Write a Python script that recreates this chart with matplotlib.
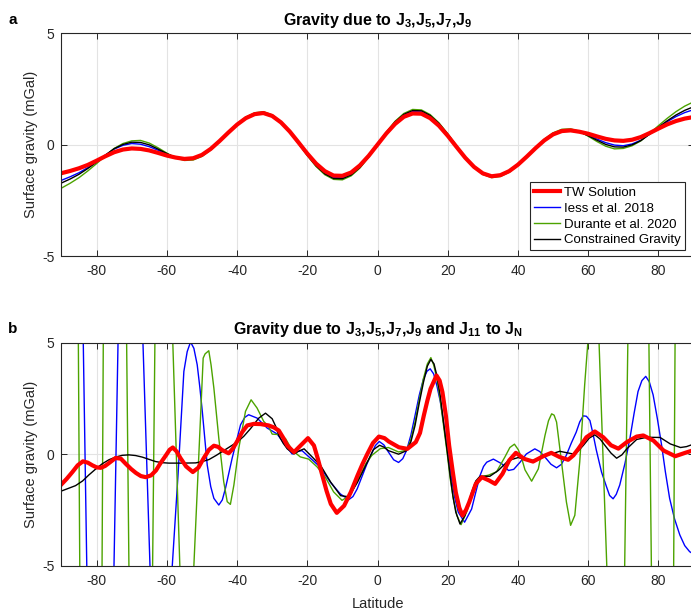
import numpy as np
import matplotlib
matplotlib.use('Agg')
import matplotlib.pyplot as plt

plt.rcParams['font.family'] = ['Liberation Sans', 'DejaVu Sans']
plt.rcParams['mathtext.fontset'] = 'custom'
plt.rcParams['mathtext.rm'] = 'Liberation Sans:bold'
plt.rcParams['mathtext.it'] = 'Liberation Sans:bold'
plt.rcParams['mathtext.bf'] = 'Liberation Sans:bold'
plt.rcParams['axes.unicode_minus'] = False

# ---- panel a : J3, J5, J7, J9 only (latitude every 2.5 deg, -90..90) ----
lat_a = np.linspace(-90, 90, 73)

tw_a = [-1.28, -1.18, -1.06, -0.91, -0.72, -0.52, -0.34, -0.22, -0.17, -0.19, -0.26, -0.37,
        -0.49, -0.58, -0.64, -0.61, -0.46, -0.19, 0.16, 0.54, 0.90, 1.19, 1.37, 1.42,
        1.29, 1.00, 0.59, 0.10, -0.40, -0.85, -1.19, -1.39, -1.40, -1.25, -0.93, -0.50,
        0.00, 0.50, 0.93, 1.25, 1.40, 1.39, 1.19, 0.85, 0.40, -0.10, -0.59, -1.00,
        -1.29, -1.42, -1.37, -1.19, -0.90, -0.54, -0.16, 0.19, 0.46, 0.61, 0.64, 0.58,
        0.49, 0.37, 0.26, 0.19, 0.17, 0.22, 0.34, 0.52, 0.72, 0.91, 1.06, 1.17, 1.24]

iess_a = [-1.60, -1.44, -1.26, -1.03, -0.76, -0.47, -0.20, -0.03, 0.05, 0.02, -0.09, -0.25,
          -0.43, -0.58, -0.65, -0.63, -0.48, -0.21, 0.15, 0.54, 0.90, 1.19, 1.37, 1.42,
          1.29, 0.99, 0.57, 0.06, -0.45, -0.92, -1.27, -1.47, -1.48, -1.32, -0.99, -0.52,
          0.00, 0.52, 0.99, 1.32, 1.48, 1.47, 1.27, 0.92, 0.45, -0.06, -0.57, -0.99,
          -1.29, -1.42, -1.37, -1.19, -0.90, -0.54, -0.15, 0.21, 0.48, 0.63, 0.65, 0.58,
          0.43, 0.25, 0.09, -0.02, -0.05, 0.03, 0.20, 0.47, 0.76, 1.03, 1.26, 1.44, 1.57]

durante_a = [-1.95, -1.73, -1.48, -1.18, -0.85, -0.50, -0.17, 0.05, 0.17, 0.19, 0.07, -0.14,
             -0.38, -0.60, -0.71, -0.69, -0.53, -0.24, 0.14, 0.54, 0.93, 1.24, 1.43, 1.48,
             1.34, 1.03, 0.58, 0.05, -0.49, -0.98, -1.35, -1.56, -1.58, -1.40, -1.05, -0.56,
             0.00, 0.56, 1.05, 1.40, 1.58, 1.56, 1.35, 0.98, 0.49, -0.05, -0.58, -1.03,
             -1.34, -1.48, -1.43, -1.24, -0.93, -0.54, -0.14, 0.24, 0.53, 0.69, 0.71, 0.60,
             0.38, 0.14, -0.07, -0.19, -0.17, -0.05, 0.17, 0.50, 0.85, 1.18, 1.48, 1.73, 1.92]

constr_a = [-1.72, -1.54, -1.33, -1.07, -0.78, -0.47, -0.18, 0.01, 0.11, 0.10, -0.01, -0.20,
            -0.40, -0.58, -0.67, -0.65, -0.50, -0.22, 0.15, 0.54, 0.92, 1.22, 1.40, 1.45,
            1.32, 1.01, 0.57, 0.06, -0.47, -0.95, -1.31, -1.52, -1.53, -1.36, -1.02, -0.54,
            0.00, 0.54, 1.02, 1.36, 1.53, 1.52, 1.31, 0.95, 0.47, -0.06, -0.57, -1.01,
            -1.32, -1.45, -1.40, -1.22, -0.92, -0.54, -0.15, 0.22, 0.50, 0.65, 0.67, 0.58,
            0.40, 0.20, 0.01, -0.10, -0.11, -0.01, 0.18, 0.47, 0.78, 1.07, 1.33, 1.54, 1.70]

# ---- panel b : J3..J9 and J11 to JN, (latitude, mGal) pairs ----
tw_b = [(-90, -1.35), (-88.5, -1.1), (-86.9, -0.8), (-85.4, -0.5), (-83.9, -0.32), (-82.5, -0.38),
        (-81.2, -0.5), (-80, -0.59), (-78.8, -0.61), (-77.6, -0.53), (-76.5, -0.4), (-74.6, -0.17),
        (-73.1, -0.2), (-71.7, -0.43), (-70.2, -0.66), (-68.8, -0.84), (-67.4, -0.98), (-66, -1.03),
        (-64.5, -0.95), (-63.1, -0.73), (-61.8, -0.4), (-60.3, -0.06), (-59.2, 0.2), (-58.3, 0.3),
        (-57.2, 0.12), (-56.1, -0.18), (-54.5, -0.55), (-52.6, -0.8), (-51, -0.6), (-49.5, -0.18),
        (-48, 0.2), (-46.6, 0.38), (-45.4, 0.33), (-44.3, 0.19), (-42.4, 0.04), (-41.2, 0.25),
        (-40, 0.57), (-38.5, 1.0), (-37.1, 1.29), (-35.2, 1.36), (-33.3, 1.35), (-31, 1.29),
        (-29.5, 1.2), (-28.1, 1.06), (-26.9, 0.75), (-25.7, 0.39), (-23.8, 0.09), (-21.9, 0.39),
        (-19.8, 0.72), (-18.1, 0.39), (-17, -0.2), (-15.7, -0.96), (-14.5, -1.65), (-13.3, -2.23),
        (-11.6, -2.63), (-9.5, -2.31), (-7.6, -1.7), (-5.7, -0.96), (-4.3, -0.45), (-2.9, 0.01),
        (-1.3, 0.5), (0.4, 0.79), (2, 0.72), (3.2, 0.57), (6.1, 0.31), (8.5, 0.24),
        (10.9, 0.54), (12.1, 0.95), (13.2, 1.74), (14.2, 2.4), (15.1, 2.93), (16.8, 3.53),
        (17.7, 3.3), (18.5, 2.78), (19.5, 1.7), (20.4, 0.39), (21.4, -0.75), (22.3, -1.71),
        (23.3, -2.4), (24.2, -2.75), (25.2, -2.5), (26.1, -2.16), (28, -1.33), (29.7, -1.03),
        (31.8, -1.18), (33.5, -1.33), (35.6, -0.88), (37.5, -0.28), (39.4, 0.06), (41.8, -0.21),
        (44.3, -0.33), (47.2, -0.09), (49.5, 0.06), (51.9, -0.13), (54.3, -0.25), (55.8, -0.05),
        (57.2, 0.24), (59.5, 0.76), (61.9, 1.02), (64.3, 0.76), (66.5, 0.4), (68.6, 0.25),
        (71, 0.54), (73.8, 0.79), (75.7, 0.84), (78.6, 0.61), (81.5, 0.16), (84.8, -0.09),
        (87.6, 0.06), (90, 0.18)]

constr_b = [(-90, -1.65), (-86, -1.41), (-84, -1.2), (-82.2, -0.93), (-80.3, -0.67), (-78.4, -0.43),
            (-76.5, -0.25), (-74.6, -0.13), (-72.7, -0.05), (-70.8, -0.03), (-68.9, -0.06), (-67, -0.13),
            (-65.1, -0.23), (-63.2, -0.33), (-61.3, -0.38), (-59.4, -0.4), (-55.6, -0.4), (-51.8, -0.39),
            (-49.9, -0.33), (-48, -0.24), (-45.9, -0.05), (-43.8, 0.16), (-40, 0.54), (-38.1, 0.8),
            (-36.2, 1.14), (-33.8, 1.62), (-31.9, 1.84), (-30, 1.59), (-29, 1.25), (-28.1, 0.84),
            (-26.9, 0.5), (-25.7, 0.24), (-23.8, 0.01), (-22.3, 0.15), (-20.9, 0.24), (-19, -0.06),
            (-16.2, -0.51), (-13.3, -1.26), (-10.5, -1.86), (-8.6, -1.9), (-7.2, -1.65), (-5.7, -1.26),
            (-2.9, -0.36), (-1.2, 0.2), (0.6, 0.4), (1.8, 0.32), (3.1, 0.16), (6, 0.0),
            (8.3, 0.16), (9.5, 0.55), (10.7, 1.29), (11.9, 2.3), (13.1, 3.23), (14.2, 3.95),
            (15.2, 4.25), (16.1, 4.05), (16.9, 3.53), (17.9, 2.6), (18.8, 1.44), (19.8, 0.2),
            (20.7, -0.96), (21.5, -1.9), (22.3, -2.6), (23.5, -3.13), (24.9, -2.75), (26.8, -1.71),
            (28, -1.2), (29.2, -0.99), (32, -0.99), (34.4, -0.73), (37.3, -0.28), (40.1, -0.15),
            (42.2, -0.25), (44.3, -0.28), (48.1, -0.06), (51.9, 0.13), (55.7, 0.01), (57.2, 0.15),
            (58.6, 0.39), (60.3, 0.72), (61.9, 0.87), (63.4, 0.68), (64.8, 0.39), (66.5, 0.05),
            (68.1, -0.18), (69.6, -0.03), (71, 0.24), (73.8, 0.66), (76.7, 0.76), (80.5, 0.75),
            (83.4, 0.46), (86.3, 0.3), (88, 0.34), (90, 0.45)]

iess_b = [(-90, 18), (-87.5, 25), (-83.8, 5), (-82.8, -5), (-79, -22), (-75.05, -5),
          (-73.9, 5), (-70.4, 14), (-66.8, 5), (-64.8, -5), (-61.8, -9), (-58.45, -5),
          (-56.8, -0.9), (-55.15, 3.71), (-54.2, 4.6), (-53.25, 5.03), (-52.3, 4.75), (-51.35, 4.01),
          (-50.6, 3.0), (-49.9, 1.92), (-48.5, -0.48), (-47.5, -1.45), (-46.6, -1.98), (-45.2, -2.28),
          (-44.2, -2.05), (-43.3, -1.53), (-41.4, -0.18), (-39, 1.32), (-37.8, 1.65), (-36.7, 1.77),
          (-34.3, 1.62), (-31.4, 1.17), (-28.6, 0.91), (-26.2, 0.39), (-24.3, 0.01), (-22.8, 0.12),
          (-21.5, 0.16), (-19.1, -0.18), (-16.3, -0.58), (-13.4, -1.26), (-10.6, -1.78), (-8.2, -2.04),
          (-7, -1.9), (-5.8, -1.56), (-3, -0.43), (-0.6, 0.39), (0.5, 0.57), (1.8, 0.42),
          (3.1, 0.1), (4.6, -0.25), (6, -0.37), (7.2, -0.2), (8.3, 0.18), (9.5, 0.85),
          (10.7, 1.74), (11.9, 2.65), (13.1, 3.38), (14.1, 3.72), (15, 3.83), (16, 3.6),
          (16.9, 3.08), (17.9, 2.35), (18.8, 1.44), (20, 0.15), (21.1, -1.11), (22, -1.95),
          (23, -2.6), (24.8, -3.05), (26.8, -2.46), (28, -1.7), (29.2, -0.96), (30.2, -0.55),
          (31.1, -0.36), (33, -0.22), (35.4, -0.43), (37.3, -0.73), (38.8, -0.68), (40.6, -0.36),
          (42.4, 0.01), (44.8, 0.24), (46.2, 0.12), (47.7, -0.13), (49.4, -0.45), (51, -0.61),
          (52.4, -0.45), (53.8, -0.04), (55.2, 0.5), (56.6, 0.99), (57.6, 1.45), (58.6, 1.72),
          (59.5, 1.7), (60.5, 1.51), (61.4, 0.9), (62.3, 0.2), (63.8, -0.8), (65.2, -1.45),
          (66.1, -1.85), (67.1, -2.0), (68, -1.8), (69, -1.38), (70.5, -0.4), (71.9, 0.72),
          (73.1, 1.85), (74.2, 2.81), (75.3, 3.3), (76.4, 3.49), (77.4, 3.25), (78.5, 2.66),
          (79.7, 1.6), (80.9, 0.42), (82, -0.8), (83.2, -1.98), (84.6, -2.9), (86.1, -3.62),
          (87.5, -4.1), (88.9, -4.37), (90, -4.48)]

durante_b = [(-90, 30), (-87.5, 45), (-85.2, 5), (-84.8, -5), (-81.5, -40), (-78.45, -5),
             (-78.1, 5), (-74.8, 30), (-71.45, 5), (-70.8, -5), (-67.5, -20), (-64.05, -5),
             (-63.4, 5), (-60.8, 12), (-58.3, 5), (-56.3, -5), (-54.3, -9), (-52.3, -5),
             (-49.65, 4.31), (-49.1, 4.5), (-48.05, 4.64), (-47.4, 4.0), (-46.6, 2.96), (-45.2, 0.72),
             (-43.8, -1.23), (-42.8, -2.13), (-41.9, -2.25), (-40.9, -1.38), (-39.5, 0.27), (-37.6, 1.92),
             (-36, 2.44), (-34.3, 2.07), (-32.4, 1.47), (-31, 1.24), (-30, 0.9), (-28.1, 0.88),
             (-26.2, 0.7), (-24.3, 0.18), (-22, -0.12), (-19.6, -0.22), (-17.2, -0.57), (-14.9, -1.02),
             (-12.5, -1.69), (-10.1, -2.07), (-7.8, -1.84), (-5.4, -1.09), (-3.3, -0.42), (-1.6, -0.05),
             (0.8, 0.25), (3.1, 0.3), (6, 0.1), (8.3, 0.18), (9.5, 0.65), (10.7, 1.45),
             (11.9, 2.45), (13.1, 3.4), (14.2, 4.05), (15.2, 4.33), (16, 4.0), (16.9, 3.4),
             (17.9, 2.4), (18.8, 1.3), (19.8, 0.1), (20.7, -1.09), (21.6, -2.0), (22.6, -2.74),
             (23.8, -3.16), (25.4, -2.59), (27.3, -1.69), (29.2, -1.02), (31.6, -0.94), (33.9, -0.79),
             (36.3, -0.12), (37.7, 0.3), (39, 0.45), (40.1, 0.2), (41, -0.15), (42, -0.7),
             (43.9, -1.21), (45.8, -0.66), (47.7, 0.84), (48.7, 1.5), (49.6, 1.81), (50.3, 1.75),
             (51, 1.44), (52.4, -0.34), (53.8, -2.14), (55, -3.19), (56.2, -2.74), (57.6, -0.34),
             (59, 3.1), (60, 5.2), (61.5, 8), (63.1, 5), (65.3, -5), (67.7, -20),
             (70.4, -5), (71.3, 5), (74.3, 30), (77.3, 5), (78.0, -5), (81.2, -40),
             (84.35, -5), (84.75, 5), (87.5, 50), (90, 40)]

labels = ['TW Solution', 'Iess et al. 2018', 'Durante et al. 2020', 'Constrained Gravity']
red = '#ff0000'
blue = '#0000ff'
green = '#4ca300'
black = '#000000'
axcol = '#262626'

fig = plt.figure(figsize=(6.91, 6.16), dpi=100)
W, H = 691, 616
left, width = 61.5 / W, 632 / W
ax_a = fig.add_axes([left, (H - 256) / H, width, 222.7 / H])
ax_b = fig.add_axes([left, (H - 565.7) / H, width, 223 / H])


def style(ax):
    ax.set_xlim(-90, 90)
    ax.set_ylim(-5, 5)
    ax.set_xticks([-80, -60, -40, -20, 0, 20, 40, 60, 80])
    ax.set_yticks([-5, 0, 5])
    ax.grid(True, color='#e3e3e3', linewidth=0.8)
    ax.set_axisbelow(True)
    ax.tick_params(direction='in', top=True, right=True, length=4, width=0.7,
                   labelsize=10, colors=axcol, labelcolor=axcol, pad=5)
    ax.tick_params(axis='x', pad=6)
    for s in ax.spines.values():
        s.set_color(axcol)
        s.set_linewidth(0.8)
    ax.set_ylabel('Surface gravity (mGal)', fontsize=10.5, color=axcol)
    ax.yaxis.set_label_coords(-0.037, 0.5)


# panel a
ax_a.plot(lat_a, iess_a, color=blue, lw=1.0)
ax_a.plot(lat_a, durante_a, color=green, lw=1.0)
ax_a.plot(lat_a, constr_a, color=black, lw=1.0)
ax_a.plot(lat_a, tw_a, color=red, lw=3.0)
style(ax_a)
ax_a.set_title(r'Gravity due to J$_3$,J$_5$,J$_7$,J$_9$', fontsize=11.5, fontweight='bold', pad=6)

h = ax_a.get_lines()
ax_a.legend([h[3], h[0], h[1], h[2]], labels, loc='lower left', bbox_to_anchor=(0.741, 0.025),
            borderaxespad=0, fontsize=9.5, frameon=True, fancybox=False, edgecolor=axcol,
            framealpha=1, handlelength=2.0, handletextpad=0.3, labelspacing=0.28, borderpad=0.3)
ax_a.get_legend().get_frame().set_linewidth(0.8)

# panel b
for data, col, lw in [(iess_b, blue, 1.0), (durante_b, green, 1.0),
                      (constr_b, black, 1.0), (tw_b, red, 3.0)]:
    x, y = np.array(data).T
    ax_b.plot(x, y, color=col, lw=lw)
style(ax_b)
ax_b.set_title(r'Gravity due to J$_3$,J$_5$,J$_7$,J$_9$ and J$_{11}$ to J$_N$',
               fontsize=11.5, fontweight='bold', pad=6)
ax_b.set_xlabel('Latitude', fontsize=10.5, color=axcol)
ax_b.xaxis.set_label_coords(0.5, -0.14)

fig.text(13 / W, 1 - 20 / H, 'a', fontsize=11, fontweight='bold', ha='center', va='center')
fig.text(13 / W, 1 - 329 / H, 'b', fontsize=11, fontweight='bold', ha='center', va='center')

fig.savefig('out.png', dpi=100)
